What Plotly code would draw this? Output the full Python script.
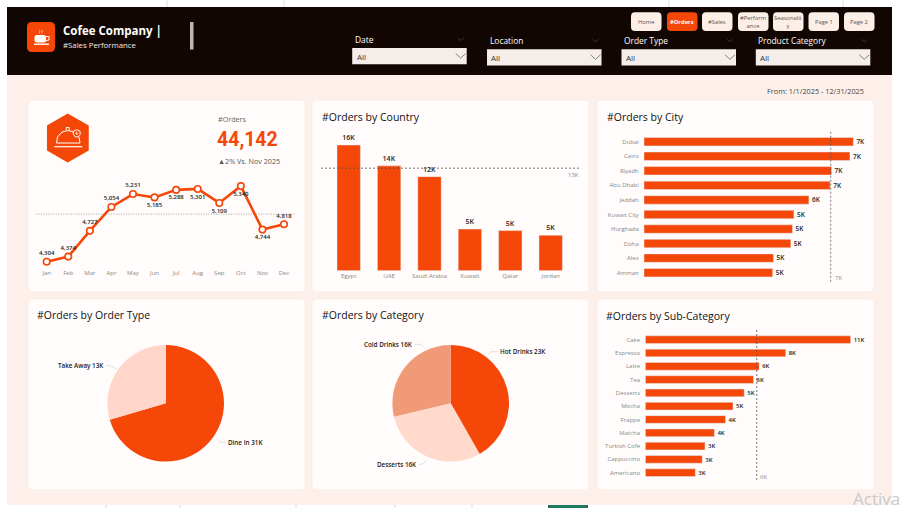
import plotly.graph_objects as go

W, H = 903, 508
ORANGE = "#F44708"
FONT = "Open Sans"

months = ["Jan", "Feb", "Mar", "Apr", "May", "Jun", "Jul", "Aug", "Sep", "Oct", "Nov", "Dec"]
month_orders = [4304, 4374, 4727, 5054, 5231, 5185, 5288, 5301, 5109, 5340, 4744, 4818]
month_label_pos = ["top center"] * 5 + ["bottom center"] * 6 + ["top center"]

countries = ["Egypt", "UAE", "Saudi Arabia", "Kuwait", "Qatar", "Jordan"]
country_orders = [16300, 13600, 12200, 5400, 5200, 4600]
country_ref = 13300

cities = ["Dubai", "Cairo", "Riyadh", "Abu Dhabi", "Jeddah", "Kuwait City", "Hurghada", "Doha", "Alex", "Amman"]
city_orders = [7400, 7280, 6630, 6580, 5830, 5300, 5250, 5190, 4580, 4550]
city_ref = 6600

subcats = ["Cake", "Espresso", "Latte", "Tea", "Desserts", "Mocha", "Frappe", "Matcha",
           "Turkish Cofe", "Cappuccino", "Americano"]
subcat_orders = [11000, 7520, 6100, 5800, 5300, 4700, 4300, 3700, 3200, 3050, 2680]
subcat_ref = 5970

order_types = ["Dine In", "Take Away"]
order_type_orders = [31000, 13000]
categories = ["Hot Drinks", "Desserts", "Cold Drinks"]
category_orders = [23000, 16300, 15800]

buttons = ["Home", "#Orders", "#Sales", "#Perform<br>ance", "Seasonalit<br>y", "Page 1", "Page 2"]
slicers = ["Date", "Location", "Order Type", "Product Category"]


def fx(px):
    return px / W


def fy(py):
    return 1 - py / H


def kfmt(v):
    return f"{round(v / 1000)}K"


def rrect(x0, y0, x1, y1, r):
    return (f"M{fx(x0 + r)},{fy(y0)} L{fx(x1 - r)},{fy(y0)} Q{fx(x1)},{fy(y0)} {fx(x1)},{fy(y0 + r)} "
            f"L{fx(x1)},{fy(y1 - r)} Q{fx(x1)},{fy(y1)} {fx(x1 - r)},{fy(y1)} "
            f"L{fx(x0 + r)},{fy(y1)} Q{fx(x0)},{fy(y1)} {fx(x0)},{fy(y1 - r)} "
            f"L{fx(x0)},{fy(y0 + r)} Q{fx(x0)},{fy(y0)} {fx(x0 + r)},{fy(y0)} Z")


def poly(points, close=False):
    s = "M" + " L".join(f"{fx(x)},{fy(y)}" for x, y in points)
    return s + (" Z" if close else "")


fig = go.Figure()


def box(x0, y0, x1, y1, color, r=0, line=None, width=0):
    fig.add_shape(type="path", path=rrect(x0, y0, x1, y1, max(r, 0.01)), xref="paper", yref="paper",
                  fillcolor=color, line=dict(color=line or color, width=width), layer="below")


def stroke(points, color, width=1, fill=None, close=False, dash=None):
    fig.add_shape(type="path", path=poly(points, close), xref="paper", yref="paper",
                  fillcolor=fill, line=dict(color=color, width=width, dash=dash), layer="below")


def label(text, x, y, size=7, color="#333333", anchor="left", font=FONT, weight=400):
    fig.add_annotation(text=text, x=fx(x), y=fy(y), xref="paper", yref="paper", showarrow=False,
                       xanchor=anchor, yanchor="middle", align="center", borderpad=0,
                       font=dict(size=size, color=color, family=font, weight=weight))


# page frame
box(7, 75, 892, 505, "#FDF0EA")
box(7, 7, 892, 75, "#120603")
for x in [167, 284, 669, 843]:
    stroke([(x, 0), (x, 7)], "#d5d5d5", 0.7)
for x in [106, 180, 296, 395, 472]:
    stroke([(x, 505), (x, 508)], "#c8c8c8", 0.7)
box(548, 505, 588, 508, "#1E7A5A")

# header
box(27, 22, 55, 52, ORANGE, 5)
box(34.5, 35, 46, 42.5, "white", 2.5)
stroke([(46, 36.5), (49, 36.5), (49, 40), (45, 41)], "white", 1)
stroke([(34, 44.2), (49, 44.2)], "white", 1.4)
stroke([(39, 33.5), (40, 31.5), (39.5, 30)], "#FFD6C9", 0.7)
stroke([(41.5, 33.5), (42.5, 31.5), (42, 30)], "#FFD6C9", 0.7)
label("<b>Cofee Company |</b>", 62, 30.5, 11.5, "white")
label("#Sales Performance", 62, 44.8, 7.8, "#F2ECE8")
box(190, 22, 193.5, 49.5, "#BDB7B3")

button_x = [631, 667, 702, 738, 773, 808.5, 844]
for name, x in zip(buttons, button_x):
    on = name == "#Orders"
    box(x, 12.3, x + 30.5, 31, ORANGE if on else "#FCEFE8", 4)
    label(f"<b>{name}</b>" if on else name, x + 15.2, 21.6, 5.8, "white" if on else "#555555", "center")

slicer_x = [352.2, 487, 621.5, 755.8]
slicer_y = [48, 49.3, 49.3, 49.3]
for name, x, y in zip(slicers, slicer_x, slicer_y):
    label(name, x + 1.5, y - 8.5, 8.4, "white", weight=500)
    box(x, y, x + 114.5, y + 16.3, "#F5EDEA")
    label("All", x + 3.5, y + 8.2, 8, "#333333")
    stroke([(x + 103.5, y + 5.5), (x + 108.5, y + 10), (x + 113.5, y + 5.5)], "#666666", 0.8)
    stroke([(x + 105.5, y - 10), (x + 108.5, y - 7.5), (x + 111.5, y - 10)], "#4a4340", 0.7)
label("From: 1/1/2025 - 12/31/2025", 865, 91, 7.3, "#444444", "right")

# cards
card_x = [(28, 305), (312, 589), (597, 874)]
for x0, x1 in card_x:
    box(x0, 100, x1, 292, "#FFFCFB", 4, "#FBE6DC", 0.6)
    box(x0, 299, x1, 490, "#FFFCFB", 4, "#FBE6DC", 0.6)
label("#Orders by Country", 321, 117, 10.5, "#111111")
label("#Orders by City", 605.5, 117, 10.5, "#111111")
label("#Orders by Order Type", 36, 315, 10.5, "#111111")
label("#Orders by Category", 321, 315, 10.5, "#111111")
label("#Orders by Sub-Category", 605, 316, 10.5, "#111111")

# KPI block
stroke([(67.7, 114.3), (88, 126), (88, 150), (67.7, 161.7), (47.7, 150), (47.7, 126)], ORANGE, 1.5, ORANGE, True)
stroke([(54.3, 146.7), (82.3, 146.7)], "white", 1.2)
stroke([(56.5, 143), (57.5, 137), (62, 132), (68, 130.5), (74, 132), (79, 137), (80, 143), (56.5, 143)], "white", 1)
stroke([(66.2, 130), (66.2, 127.5), (69.2, 127.5), (69.2, 130)], "white", 1)
stroke([(73.5, 131), (76.7, 129.8), (79.9, 131), (80.3, 134), (78.5, 136.8), (75, 136.8), (73.2, 134)],
       "white", 0.9, ORANGE, True)
stroke([(75, 133.3), (78.4, 133.3)], "white", 0.7)
stroke([(76.7, 131.6), (76.7, 135)], "white", 0.7)
label("#Orders", 216.7, 119.3, 7.2, "#666666")
label("<b>44,142</b>", 216, 139.2, 19.5, ORANGE, font="Roboto")
label("▲2% Vs. Nov 2025", 216.7, 160.7, 7.2, "#555555")

# monthly line with its average
avg = sum(month_orders) / len(month_orders)
fig.add_shape(type="line", xref="x domain", yref="y", x0=0, x1=1, y0=avg, y1=avg,
              line=dict(color="#888888", width=0.8, dash="1px,1.5px"), layer="below")
fig.add_trace(go.Scatter(x=months, y=month_orders, mode="lines+markers+text", xaxis="x", yaxis="y",
                         text=[f"{v:,}" for v in month_orders], textposition=month_label_pos,
                         textfont=dict(size=6, color="#222222", family=FONT, weight=600),
                         line=dict(color=ORANGE, width=2.6),
                         marker=dict(size=6.5, color="white", line=dict(color=ORANGE, width=1.6))))

# bars
bar_font = dict(size=7, color="#222222", family=FONT, weight=600)
fig.add_trace(go.Bar(x=countries, y=country_orders, xaxis="x2", yaxis="y2", marker_color=ORANGE,
                     text=[kfmt(v) for v in country_orders], textposition="outside", cliponaxis=False,
                     textfont=bar_font))
fig.add_trace(go.Bar(y=cities, x=city_orders, orientation="h", xaxis="x3", yaxis="y3", marker_color=ORANGE,
                     text=[kfmt(v) for v in city_orders], textposition="outside", cliponaxis=False,
                     textfont=bar_font))
fig.add_trace(go.Bar(y=subcats, x=subcat_orders, orientation="h", xaxis="x4", yaxis="y4", marker_color=ORANGE,
                     text=[kfmt(v) for v in subcat_orders], textposition="outside", cliponaxis=False,
                     textfont=bar_font))

# reference lines
ref_line = dict(color="#555555", width=0.8, dash="2px,2px")
fig.add_shape(type="line", xref="x2 domain", yref="y2", x0=0, x1=1, y0=country_ref, y1=country_ref, line=ref_line)
fig.add_shape(type="line", xref="x3", yref="y3 domain", x0=city_ref, x1=city_ref, y0=0, y1=1, line=ref_line)
fig.add_shape(type="line", xref="x4", yref="y4 domain", x0=subcat_ref, x1=subcat_ref, y0=0, y1=1, line=ref_line)
label(kfmt(country_ref), 573.7, 175, 6, "#888888", "center")
label(kfmt(city_ref), 838.7, 278, 6, "#888888", "center")
label(kfmt(subcat_ref), 763.7, 476.7, 6, "#888888", "center")

# pies
pie_r = 58.3
fig.add_trace(go.Pie(labels=order_types, values=order_type_orders, sort=False, direction="clockwise",
                     rotation=0, textinfo="none", marker=dict(colors=[ORANGE, "#FFD6C9"]),
                     domain=dict(x=[fx(165.7 - pie_r), fx(165.7 + pie_r)],
                                 y=[fy(403.3 + pie_r), fy(403.3 - pie_r)])))
fig.add_trace(go.Pie(labels=categories, values=category_orders, sort=False, direction="clockwise",
                     rotation=0, textinfo="none", marker=dict(colors=[ORANGE, "#FFD9CC", "#F09A78"]),
                     domain=dict(x=[fx(450.7 - pie_r), fx(450.7 + pie_r)],
                                 y=[fy(403.3 + pie_r), fy(403.3 - pie_r)])))

pie_labels = [
    (f"{order_types[1]} {kfmt(order_type_orders[1])}", 105, 365.7, "right", [(106, 365.7), (111, 366), (116.7, 369)]),
    (f"{order_types[0]} {kfmt(order_type_orders[0])}", 226.7, 442.3, "left", [(216.7, 439), (220, 442), (225.5, 442.3)]),
    (f"{categories[2]} {kfmt(category_orders[2])}", 414.3, 344.3, "right", [(415.5, 344.3), (421, 344.3), (425, 348)]),
    (f"{categories[0]} {kfmt(category_orders[0])}", 498.7, 351.7, "left", [(487.7, 355), (491, 351.7), (497.5, 351.7)]),
    (f"{categories[1]} {kfmt(category_orders[1])}", 417.7, 464.3, "right", [(419, 464.3), (423, 464), (426.7, 460)]),
]
for text, x, y, anchor, leader in pie_labels:
    label(text, x, y, 6.3, "#222222", anchor, weight=600)
    stroke(leader, "#CCCCCC", 0.6)

label("Activa", 852, 498.5, 17, "#C9C9C9")

tick_font = dict(size=6, color="#888888", family=FONT)
hidden = dict(visible=False, fixedrange=True)
fig.update_layout(
    width=W, height=H, margin=dict(l=0, r=0, t=0, b=0), showlegend=False,
    paper_bgcolor="white", plot_bgcolor="rgba(0,0,0,0)", bargap=0.42,
    xaxis=dict(domain=[fx(35.9), fx(294.8)], range=[-0.5, 11.5], type="category", showgrid=False, zeroline=False,
               tickfont=tick_font, ticks="", showline=False,
               anchor="y", fixedrange=True, categoryorder="array", categoryarray=months),
    yaxis=dict(domain=[fy(268), fy(175)], range=[4218, 5492], anchor="x", **hidden),
    xaxis2=dict(domain=[fx(321), fx(580)], range=[-0.686, 5.725], type="category", showgrid=False, zeroline=False,
                tickfont=tick_font, ticks="", showline=False,
                anchor="y2", fixedrange=True),
    yaxis2=dict(domain=[fy(270.7), fy(130)], range=[0, 18250], anchor="x2", **hidden),
    xaxis3=dict(domain=[fx(644), fx(874)], range=[0, 8130], anchor="y3", **hidden),
    yaxis3=dict(domain=[fy(281.7), fy(131.7)], range=[9.62, -0.687], type="category", showgrid=False, zeroline=False,
                tickfont=tick_font, ticks="outside", ticklen=3, tickcolor="rgba(0,0,0,0)", showline=False,
                anchor="x3", fixedrange=True),
    xaxis4=dict(domain=[fx(645.3), fx(874)], range=[0, 12250], anchor="y4", **hidden),
    yaxis4=dict(domain=[fy(480), fy(330)], range=[10.55, -0.729], type="category", showgrid=False, zeroline=False,
                tickfont=tick_font, ticks="outside", ticklen=3, tickcolor="rgba(0,0,0,0)", showline=False,
                anchor="x4", fixedrange=True),
)

fig.write_html("out.html", config=dict(displayModeBar=False),
               post_script="document.body.style.margin='0';document.body.style.overflow='hidden';")
